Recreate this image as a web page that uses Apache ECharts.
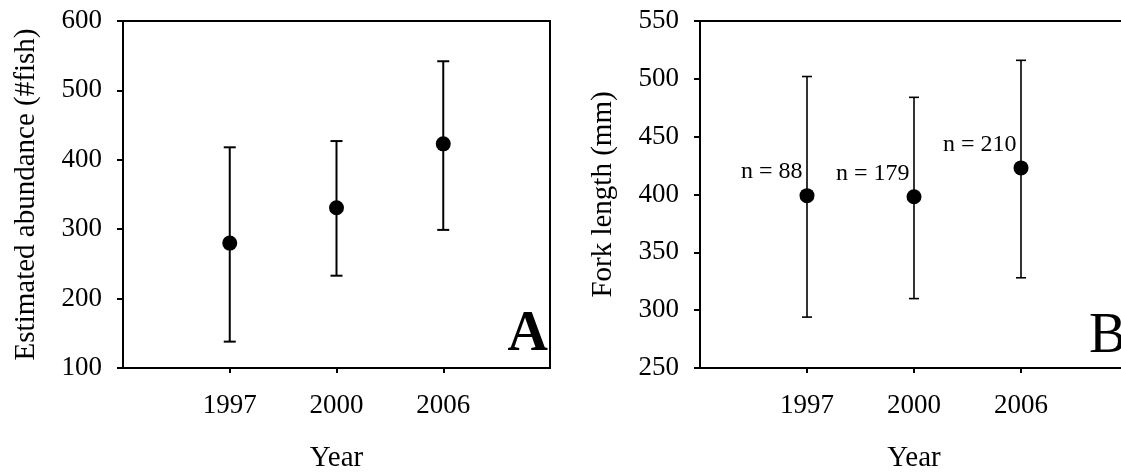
<!DOCTYPE html>
<html>
<head>
<meta charset="utf-8">
<script src="https://cdn.jsdelivr.net/npm/echarts@6/dist/echarts.min.js"></script>
<style>
html,body{margin:0;padding:0;background:#fff;}
#c{width:1121px;height:472px;}
</style>
</head>
<body>
<div id="c"></div>
<script>
// ---- data ----
var years = ['1997', '2000', '2006'];
// Panel A: estimated abundance (#fish)
var abundMean = [280, 331, 423];
var abundLow  = [138, 233, 299];
var abundHigh = [418, 427, 542];
// Panel B: fork length (mm)
var forkMean = [399, 398, 423];
var forkLow  = [294, 310, 328];
var forkHigh = [502, 484, 516];
var sampleN  = ['n = 88', 'n = 179', 'n = 210'];
// axis ticks
var abundTicks = {min: 100, max: 600, interval: 100};
var forkTicks  = {min: 250, max: 550, interval: 50};

var FONT = 'Liberation Serif';
var cats = [''].concat(years).concat(['']);

function xAxisCfg(gi) {
  return {
    type: 'category', gridIndex: gi, data: cats, boundaryGap: false,
    axisLine: {lineStyle: {color: '#000', width: 2}},
    axisTick: {show: true, length: 5, lineStyle: {color: '#000', width: 2},
      interval: function (i, v) { return v !== ''; }},
    axisLabel: {interval: 0, color: '#000', fontFamily: FONT, fontSize: 27, margin: 24},
    name: 'Year', nameLocation: 'middle', nameGap: 76,
    nameTextStyle: {color: '#000', fontFamily: FONT, fontSize: 29},
    splitLine: {show: false}
  };
}
function yAxisCfg(gi, t, name) {
  return {
    type: 'value', gridIndex: gi, min: t.min, max: t.max, interval: t.interval,
    axisLine: {show: true, lineStyle: {color: '#000', width: 2}},
    axisTick: {show: true, length: 6, lineStyle: {color: '#000', width: 2}},
    axisLabel: {color: '#000', fontFamily: FONT, fontSize: 27, margin: 21},
    splitLine: {show: false},
    name: name, nameLocation: 'middle', nameGap: 82, nameRotate: 90,
    nameTextStyle: {color: '#000', fontFamily: FONT, fontSize: 29}
  };
}
function errData(lo, hi) {
  return lo.map(function (l, i) { return [i + 1, l, hi[i]]; });
}
function errSeries(gi, lo, hi, lw, cap) {
  return {
    type: 'custom', xAxisIndex: gi, yAxisIndex: gi, silent: true, z: 1,
    data: errData(lo, hi),
    encode: {x: 0, y: [1, 2]},
    renderItem: function (params, api) {
      var x = api.value(0);
      var a = api.coord([x, api.value(1)]);
      var b = api.coord([x, api.value(2)]);
      var st = {stroke: '#000', lineWidth: lw};
      return {type: 'group', children: [
        {type: 'line', shape: {x1: a[0], y1: a[1], x2: b[0], y2: b[1]}, style: st},
        {type: 'line', shape: {x1: a[0] - cap, y1: a[1], x2: a[0] + cap, y2: a[1]}, style: st},
        {type: 'line', shape: {x1: b[0] - cap, y1: b[1], x2: b[0] + cap, y2: b[1]}, style: st}
      ]};
    }
  };
}
function pts(vals, labels) {
  return vals.map(function (v, i) {
    var d = {value: [i + 1, v]};
    if (labels) d.name = labels[i];
    return d;
  });
}

var chart = echarts.init(document.getElementById('c'), null, {renderer: 'canvas'});
chart.setOption({
  animation: false,
  backgroundColor: '#fff',
  grid: [
    {left: 123, top: 21, width: 427, height: 347, show: true, borderColor: '#000', borderWidth: 2,
     backgroundColor: 'transparent', outerBoundsMode: 'none', containLabel: false},
    {left: 700, top: 21, width: 428, height: 347, show: true, borderColor: '#000', borderWidth: 2,
     backgroundColor: 'transparent', outerBoundsMode: 'none', containLabel: false}
  ],
  xAxis: [xAxisCfg(0), xAxisCfg(1)],
  yAxis: [
    yAxisCfg(0, abundTicks, 'Estimated abundance (#fish)'),
    yAxisCfg(1, forkTicks, 'Fork length (mm)')
  ],
  series: [
    errSeries(0, abundLow, abundHigh, 2, 6),
    {type: 'scatter', xAxisIndex: 0, yAxisIndex: 0, symbol: 'circle', symbolSize: 15, z: 3,
     itemStyle: {color: '#000', opacity: 1}, data: pts(abundMean)},
    errSeries(1, forkLow, forkHigh, 1.6, 5),
    {type: 'scatter', xAxisIndex: 1, yAxisIndex: 1, symbol: 'circle', symbolSize: 15, z: 3,
     itemStyle: {color: '#000', opacity: 1}, data: pts(forkMean, sampleN),
     label: {show: true, formatter: '{b}', position: [3, -4], align: 'right', verticalAlign: 'bottom',
       color: '#000', opacity: 1, fontFamily: FONT, fontSize: 24}}
  ],
  graphic: [
    {type: 'text', x: 548, y: 364, style: {text: 'A', font: 'bold 56px "Liberation Serif"', fill: '#000', align: 'right', verticalAlign: 'bottom'}},
    {type: 'text', x: 1089, y: 365, style: {text: 'B', font: '56px "Liberation Serif"', fill: '#000', align: 'left', verticalAlign: 'bottom'}}
  ]
});
</script>
</body>
</html>
